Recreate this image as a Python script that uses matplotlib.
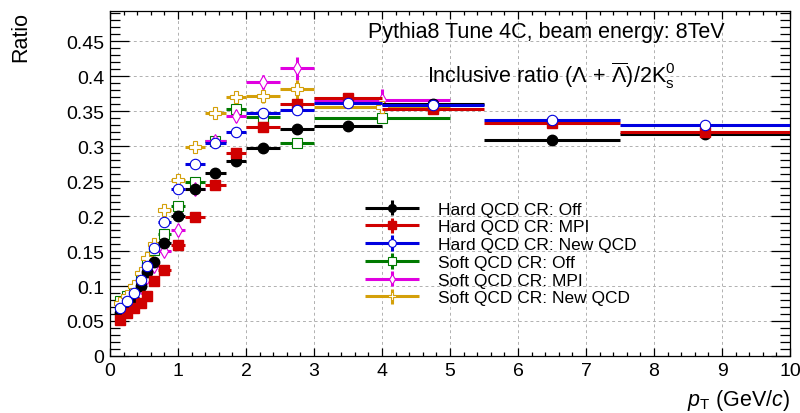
import numpy as np
import matplotlib
matplotlib.use('Agg')
import matplotlib.pyplot as plt
from matplotlib.ticker import MultipleLocator, FixedLocator
from matplotlib.legend_handler import HandlerErrorbar

plt.rcParams['font.family'] = ['Liberation Sans', 'DejaVu Sans']
plt.rcParams['mathtext.fontset'] = 'custom'
plt.rcParams['mathtext.rm'] = 'Liberation Sans'
plt.rcParams['mathtext.it'] = 'Liberation Sans:italic'

# bin edges (GeV/c)
hard_edges = [0.1, 0.2, 0.3, 0.4, 0.5, 0.6, 0.7, 0.9, 1.1, 1.4, 1.7, 2.0,
              2.5, 3.0, 4.0, 5.5, 7.5, 10.0]
soft_edges = [0.1, 0.2, 0.3, 0.4, 0.5, 0.6, 0.7, 0.9, 1.1, 1.4, 1.7, 2.0,
              2.5, 3.0, 5.0]

# Hard QCD
hard_off = [0.062, 0.070, 0.080, 0.100, 0.120, 0.135, 0.161, 0.200, 0.238,
            0.262, 0.279, 0.297, 0.324, 0.328, 0.360, 0.308, 0.317]
hard_mpi = [0.052, 0.061, 0.068, 0.075, 0.086, 0.107, 0.123, 0.159, 0.199,
            0.245, 0.290, 0.327, 0.360, 0.369, 0.353, 0.333, 0.320]
hard_new = [0.068, 0.078, 0.090, 0.108, 0.128, 0.155, 0.192, 0.238, 0.275,
            0.305, 0.320, 0.347, 0.351, 0.362, 0.358, 0.337, 0.330]
hard_err = [0.001, 0.001, 0.001, 0.001, 0.001, 0.001, 0.001, 0.002, 0.002,
            0.002, 0.003, 0.003, 0.003, 0.003, 0.004, 0.005, 0.007]

# Soft QCD
soft_off = [0.078, 0.085, 0.096, 0.115, 0.135, 0.152, 0.174, 0.215, 0.249,
            0.307, 0.353, 0.342, 0.304, 0.340]
soft_mpi = [0.070, 0.075, 0.085, 0.098, 0.113, 0.128, 0.150, 0.180, 0.238,
            0.307, 0.343, 0.391, 0.411, 0.366]
soft_new = [0.075, 0.086, 0.100, 0.118, 0.140, 0.160, 0.208, 0.251, 0.298,
            0.347, 0.370, 0.371, 0.381, 0.356]
soft_off_err = [0.002, 0.002, 0.002, 0.002, 0.002, 0.003, 0.003, 0.004,
                0.004, 0.005, 0.006, 0.006, 0.007, 0.007]
soft_mpi_err = [0.002, 0.002, 0.003, 0.003, 0.004, 0.005, 0.006, 0.008,
                0.008, 0.007, 0.008, 0.010, 0.016, 0.015]
soft_new_err = [0.002, 0.002, 0.002, 0.003, 0.003, 0.004, 0.005, 0.005,
                0.006, 0.006, 0.008, 0.009, 0.014, 0.009]

labels = ['Hard QCD CR: Off', 'Hard QCD CR: MPI', 'Hard QCD CR: New QCD',
          'Soft QCD CR: Off', 'Soft QCD CR: MPI', 'Soft QCD CR: New QCD']


def centers(edges):
    e = np.asarray(edges)
    return 0.5 * (e[1:] + e[:-1]), 0.5 * (e[1:] - e[:-1])


xh, xh_err = centers(hard_edges)
xs, xs_err = centers(soft_edges)

fig = plt.figure(figsize=(8.0, 4.14), dpi=100)
ax = fig.add_axes([0.1375, 0.1377, 0.85, 0.8333])

series = [
    # x, xerr, y, yerr, color, marker, size, open, zorder, label
    (xh, xh_err, hard_off, hard_err, 'black', 'o', 7.5, False, 6, labels[0]),
    (xh, xh_err, hard_mpi, hard_err, '#d00000', 's', 7.0, False, 7, labels[1]),
    (xh, xh_err, hard_new, hard_err, '#0000e0', 'o', 7.5, True, 8, labels[2]),
    (xs, xs_err, soft_off, soft_off_err, '#007a00', 's', 7.0, True, 3,
     labels[3]),
    (xs, xs_err, soft_mpi, soft_mpi_err, '#e000e0', 'd', 7.0, True, 4,
     labels[4]),
    (xs, xs_err, soft_new, soft_new_err, '#d4a00a', 'P', 8.0, True, 5,
     labels[5]),
]

handles = {}
for x, xe, y, ye, col, mk, ms, hollow, zo, lab in series:
    h = ax.errorbar(x, y, xerr=xe, yerr=ye, fmt=mk, color=col,
                    ecolor=col, elinewidth=2.2, capsize=0, ms=ms,
                    mfc='white' if hollow else col, mec=col,
                    mew=0.8 if hollow else 1.0, zorder=zo, label=lab)
    handles[lab] = h

ax.set_xlim(0, 10)
ax.set_ylim(0, 0.4929)

ax.xaxis.set_major_locator(MultipleLocator(1))
ax.xaxis.set_minor_locator(MultipleLocator(0.2))
ax.yaxis.set_major_locator(FixedLocator(np.arange(0, 0.46, 0.05)))
ax.yaxis.set_minor_locator(MultipleLocator(0.01))
ax.set_yticklabels(['0', '0.05', '0.1', '0.15', '0.2', '0.25', '0.3',
                    '0.35', '0.4', '0.45'])
ax.tick_params(which='both', direction='in', top=True, right=True,
               labelsize=14, width=0.9)
ax.tick_params(axis='x', which='major', length=6, pad=4)
ax.tick_params(axis='x', which='minor', length=3)
ax.tick_params(axis='y', which='major', length=14, pad=4)
ax.tick_params(axis='y', which='minor', length=7)
for s in ax.spines.values():
    s.set_linewidth(0.9)

ax.grid(True, which='major', color='#b0b0b0', linestyle=(0, (3, 3)),
        linewidth=0.7)
ax.set_axisbelow(True)

ax.set_ylabel('Ratio', fontsize=15.5, loc='top', labelpad=25)
ax.set_xlabel(r'$p_{\mathrm{T}}$ (GeV/$c$)', fontsize=15.5, loc='right',
              labelpad=6)

ax.text(0.904, 0.94, 'Pythia8 Tune 4C, beam energy: 8TeV', fontsize=15.5,
        ha='right', va='center', transform=ax.transAxes)
ax.text(0.466, 0.815,
        r'Inclusive ratio $(\Lambda\,+\,\overline{\Lambda})/2\mathrm{K}^{0}_{\mathrm{s}}$',
        fontsize=15.5, ha='left', va='center', transform=ax.transAxes)

hmap = {handles[l]: HandlerErrorbar(xerr_size=1.55, yerr_size=0.45)
        for l in labels}
leg = ax.legend([handles[l] for l in labels], labels, loc='upper left',
                bbox_to_anchor=(0.36, 0.468), frameon=False, fontsize=12.5,
                handlelength=3.5, handletextpad=0.9, labelspacing=0.15,
                borderaxespad=0.0, markerscale=0.75, handler_map=hmap)

fig.savefig('out.png', dpi=100)
